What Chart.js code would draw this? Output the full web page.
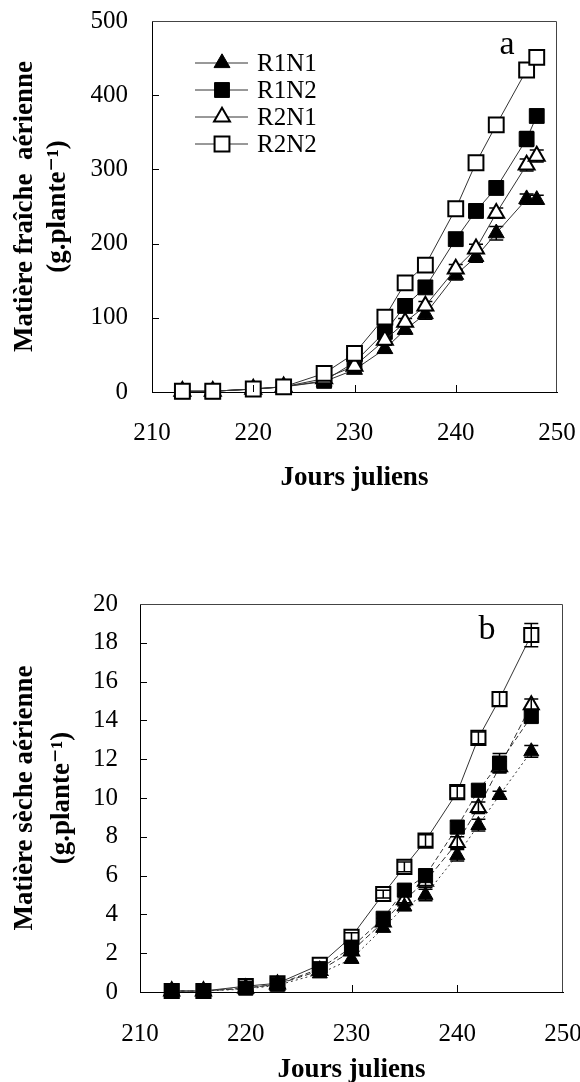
<!DOCTYPE html>
<html lang="fr">
<head>
<meta charset="utf-8">
<title>Matière fraîche et sèche aérienne</title>
<script src="https://cdn.jsdelivr.net/npm/chart.js@4.4.1/dist/chart.umd.min.js"></script>
<style>
  html, body { margin: 0; padding: 0; background: #fff; overflow: hidden; }
  #wrapA { position: absolute; left: 0; top: 0; width: 580px; height: 520px; }
  #wrapB { position: absolute; left: 0; top: 540px; width: 580px; height: 560px; }
</style>
</head>
<body>
<div id="wrapA"><canvas id="chartA" width="580" height="520"></canvas></div>
<div id="wrapB"><canvas id="chartB" width="580" height="560"></canvas></div>
<script>
// --- Data ---
const seriesNames = ['R1N1', 'R1N2', 'R2N1', 'R2N2'];
const xTicks = [210, 220, 230, 240, 250];

// (a) fresh above-ground matter (g.plante-1)
const daysFresh = [213, 216, 220, 223, 227, 230, 233, 235, 237, 240, 242, 244, 247, 248];
const freshR1N1 = [1, 1, 4, 7, 14, 30, 58, 84, 105, 158, 182, 214, 260, 259];
const freshR1N2 = [1, 1, 4, 7, 15, 40, 81, 116, 141, 206, 244, 275, 341, 372];
const freshR2N1 = [1, 1, 4, 7, 18, 35, 70, 94, 116, 166, 193, 241, 306, 318];
const freshR2N2 = [1, 1, 4, 7, 25, 52, 101, 147, 171, 247, 309, 360, 434, 451];
const freshErrR1N1 = [0, 0, 0, 0, 2, 3, 5, 6, 7, 7, 7, 9, 7, 6];
const freshErrR1N2 = [0, 0, 0, 0, 2, 3, 5, 6, 7, 6, 7, 8, 10, 6];
const freshErrR2N1 = [0, 0, 0, 0, 2, 3, 4, 5, 6, 6, 6, 7, 8, 8];
const freshErrR2N2 = [0, 0, 0, 0, 2, 3, 4, 5, 6, 6, 6, 7, 7, 6];

// (b) dry above-ground matter (g.plante-1)
const daysDry = [213, 216, 220, 223, 227, 230, 233, 235, 237, 240, 242, 244, 247];
const dryR1N1 = [0.05, 0.05, 0.15, 0.35, 0.95, 1.7, 3.3, 4.4, 5.0, 7.05, 8.6, 10.15, 12.4];
const dryR1N2 = [0.05, 0.05, 0.2, 0.4, 1.2, 2.3, 3.8, 5.25, 6.0, 8.5, 10.4, 11.8, 14.2];
const dryR2N1 = [0.05, 0.05, 0.2, 0.4, 1.1, 2.1, 3.6, 4.75, 5.7, 7.7, 9.5, 11.6, 14.8];
const dryR2N2 = [0.05, 0.05, 0.3, 0.45, 1.4, 2.85, 5.05, 6.45, 7.8, 10.3, 13.1, 15.1, 18.4];
const dryErrR1N1 = [0, 0, 0, 0, 0.1, 0.2, 0.2, 0.2, 0.3, 0.3, 0.3, 0.2, 0.3];
const dryErrR1N2 = [0, 0, 0, 0, 0.1, 0.2, 0.2, 0.3, 0.3, 0.3, 0.3, 0.5, 0.3];
const dryErrR2N1 = [0, 0, 0, 0, 0.1, 0.2, 0.2, 0.3, 0.3, 0.3, 0.3, 0.3, 0.3];
const dryErrR2N2 = [0, 0, 0, 0, 0.1, 0.2, 0.2, 0.25, 0.3, 0.3, 0.3, 0.35, 0.6];

// --- Marker styles per series ---
const markerShape = ['triangle', 'rect', 'triangle', 'rect'];
const markerFill = ['#000', '#000', '#fff', '#fff'];
const dashesDry = [[2, 3], [5, 3], [6, 3], []];
// lower number = drawn on top
const orderFresh = [3, 2, 1, 0];
const orderDry = [1, 0, 2, 3];

Chart.defaults.font.family = "'Liberation Serif', 'DejaVu Serif', serif";
Chart.defaults.color = '#000';

function makeSets(days, values, errors, sizes, dashes, order) {
  return values.map((vals, k) => ({
    label: seriesNames[k],
    data: days.map((d, i) => ({ x: d, y: vals[i] })),
    errors: errors[k],
    order: order[k],
    clip: false,
    borderColor: '#333',
    borderWidth: 1,
    borderDash: dashes ? dashes[k] : [],
    pointStyle: markerShape[k],
    pointRadius: markerShape[k] === 'rect' ? sizes.rect : sizes.tri,
    pointBackgroundColor: markerFill[k],
    pointBorderColor: '#000',
    pointBorderWidth: markerFill[k] === '#000' ? 1 : 2,
    fill: false,
    tension: 0
  }));
}

// --- Plugins ---
// frame: top/right box lines + inward tick marks
const frame = {
  id: 'frame',
  afterDraw(chart) {
    const { ctx, chartArea: a } = chart;
    const xs = chart.scales.x, ys = chart.scales.y;
    ctx.save();
    ctx.strokeStyle = '#444';
    ctx.lineWidth = 1;
    ctx.beginPath();
    ctx.moveTo(a.left, a.top + 0.5);
    ctx.lineTo(a.right - 0.5, a.top + 0.5);
    ctx.lineTo(a.right - 0.5, a.bottom);
    ctx.stroke();
    ctx.strokeStyle = '#000';
    ctx.beginPath();
    xs.ticks.forEach(t => {
      if (t.value <= xs.min || t.value >= xs.max) return;
      const px = Math.round(xs.getPixelForValue(t.value)) + 0.5;
      ctx.moveTo(px, a.bottom);
      ctx.lineTo(px, a.bottom - 7);
    });
    ys.ticks.forEach(t => {
      if (t.value <= ys.min || t.value >= ys.max) return;
      const py = Math.round(ys.getPixelForValue(t.value)) + 0.5;
      ctx.moveTo(a.left, py);
      ctx.lineTo(a.left + 7, py);
    });
    ctx.stroke();
    ctx.restore();
  }
};

function drawErrors(chart) {
  const { ctx } = chart;
  const ys = chart.scales.y;
  ctx.save();
  ctx.strokeStyle = '#000';
  ctx.lineWidth = 1.5;
  chart.data.datasets.forEach((ds, k) => {
    const meta = chart.getDatasetMeta(k);
    meta.data.forEach((pt, i) => {
      const e = ds.errors[i];
      if (!e) return;
      const v = ds.data[i].y;
      const y1 = ys.getPixelForValue(v - e), y2 = ys.getPixelForValue(v + e);
      ctx.beginPath();
      ctx.moveTo(pt.x, y1); ctx.lineTo(pt.x, y2);
      ctx.moveTo(pt.x - 7, y1); ctx.lineTo(pt.x + 7, y1);
      ctx.moveTo(pt.x - 7, y2); ctx.lineTo(pt.x + 7, y2);
      ctx.stroke();
    });
  });
  ctx.restore();
}

const errorBars = {
  id: 'errorBars',
  beforeDatasetsDraw(chart, args, opts) { if (!opts.onTop) drawErrors(chart); },
  afterDatasetsDraw(chart, args, opts) { if (opts.onTop) drawErrors(chart); }
};

// legend drawn inside the plot, top-left
const innerLegend = {
  id: 'innerLegend',
  afterDraw(chart, args, opts) {
    if (!opts.show) return;
    const { ctx, chartArea: a } = chart;
    ctx.save();
    ctx.font = "25px 'Liberation Serif', serif";
    ctx.textBaseline = 'middle';
    chart.data.datasets.forEach((ds, k) => {
      const y = a.top + 42 + k * 27;
      ctx.strokeStyle = '#333';
      ctx.lineWidth = 1;
      ctx.beginPath();
      ctx.moveTo(a.left + 43, y); ctx.lineTo(a.left + 96, y);
      ctx.stroke();
      ctx.fillStyle = ds.pointBackgroundColor;
      ctx.strokeStyle = '#000';
      ctx.lineWidth = ds.pointBorderWidth;
      Chart.helpers.drawPoint(ctx, {
        pointStyle: ds.pointStyle, radius: ds.pointRadius,
        borderWidth: ds.pointBorderWidth, rotation: 0
      }, a.left + 70, y);
      ctx.fillStyle = '#000';
      ctx.fillText(ds.label, a.left + 105, y + 1);
    });
    ctx.restore();
  }
};

const panelLetter = {
  id: 'panelLetter',
  afterDraw(chart, args, opts) {
    const { ctx, chartArea: a } = chart;
    ctx.save();
    ctx.font = "34px 'Liberation Serif', serif";
    ctx.fillStyle = '#000';
    ctx.textAlign = 'center';
    ctx.textBaseline = 'middle';
    ctx.fillText(opts.text, a.right - opts.dx, a.top + opts.dy);
    ctx.restore();
  }
};

function options(cfg) {
  return {
    responsive: false,
    animation: false,
    events: [],
    layout: { padding: { left: 0, right: cfg.padRight, top: cfg.padTop, bottom: 0 } },
    plugins: {
      legend: { display: false },
      tooltip: { enabled: false },
      innerLegend: { show: cfg.legend },
      errorBars: { onTop: cfg.errOnTop },
      panelLetter: { text: cfg.letter, dx: cfg.letterDx, dy: cfg.letterDy }
    },
    scales: {
      x: {
        type: 'linear', min: 210, max: 250,
        afterBuildTicks: s => { s.ticks = xTicks.map(v => ({ value: v })); },
        ticks: { padding: cfg.xTickPad, color: '#000', font: { size: 25 } },
        grid: { display: false, drawTicks: false },
        border: { color: '#000', width: 1 },
        title: {
          display: true, text: 'Jours juliens', color: '#000',
          font: { size: 27, weight: 'bold' },
          padding: { top: 0, bottom: cfg.xTitlePad }
        },
        afterFit: s => { s.height = cfg.xHeight; s.paddingLeft = 0; s.paddingRight = 0; }
      },
      y: {
        type: 'linear', min: cfg.yMin, max: cfg.yMax,
        ticks: { stepSize: cfg.yStep, padding: cfg.yTickPad, color: '#000', font: { size: 25 } },
        grid: { display: false, drawTicks: false },
        border: { color: '#000', width: 1 },
        title: {
          display: true, text: cfg.yTitle, color: '#000',
          font: { size: 27, weight: 'bold', lineHeight: cfg.yTitleLH },
          padding: { top: cfg.yTitlePad, bottom: 0 }
        },
        afterFit: s => { s.width = cfg.yWidth; s.paddingTop = 0; s.paddingBottom = 0; }
      }
    }
  };
}

new Chart(document.getElementById('chartA'), {
  type: 'line',
  data: {
    datasets: makeSets(daysFresh,
      [freshR1N1, freshR1N2, freshR2N1, freshR2N2],
      [freshErrR1N1, freshErrR1N2, freshErrR2N1, freshErrR2N2],
      { rect: 10.5, tri: 9.2 }, null, orderFresh)
  },
  options: options({
    padRight: 23, padTop: 21, xHeight: 128, xTickPad: 26, xTitlePad: 26,
    yWidth: 152, yTickPad: 24, yMin: 0, yMax: 500, yStep: 100,
    yTitle: ['Matière fraîche  aérienne', '(g.plante⁻¹)'], yTitleLH: 1.22, yTitlePad: 8.5,
    legend: true, errOnTop: false, letter: 'a', letterDx: 50, letterDy: 24
  }),
  plugins: [frame, errorBars, innerLegend, panelLetter]
});

new Chart(document.getElementById('chartB'), {
  type: 'line',
  data: {
    datasets: makeSets(daysDry,
      [dryR1N1, dryR1N2, dryR2N1, dryR2N2],
      [dryErrR1N1, dryErrR1N2, dryErrR2N1, dryErrR2N2],
      { rect: 10, tri: 8.7 }, dashesDry, orderDry)
  },
  options: options({
    padRight: 17, padTop: 64, xHeight: 108, xTickPad: 27, xTitlePad: 14,
    yWidth: 140, yTickPad: 22, yMin: 0, yMax: 20, yStep: 2,
    yTitle: ['Matière sèche aérienne', '(g.plante⁻¹)'], yTitleLH: 1.37, yTitlePad: 6.5,
    legend: false, errOnTop: true, letter: 'b', letterDx: 76, letterDy: 26
  }),
  plugins: [frame, errorBars, innerLegend, panelLetter]
});
</script>
</body>
</html>
